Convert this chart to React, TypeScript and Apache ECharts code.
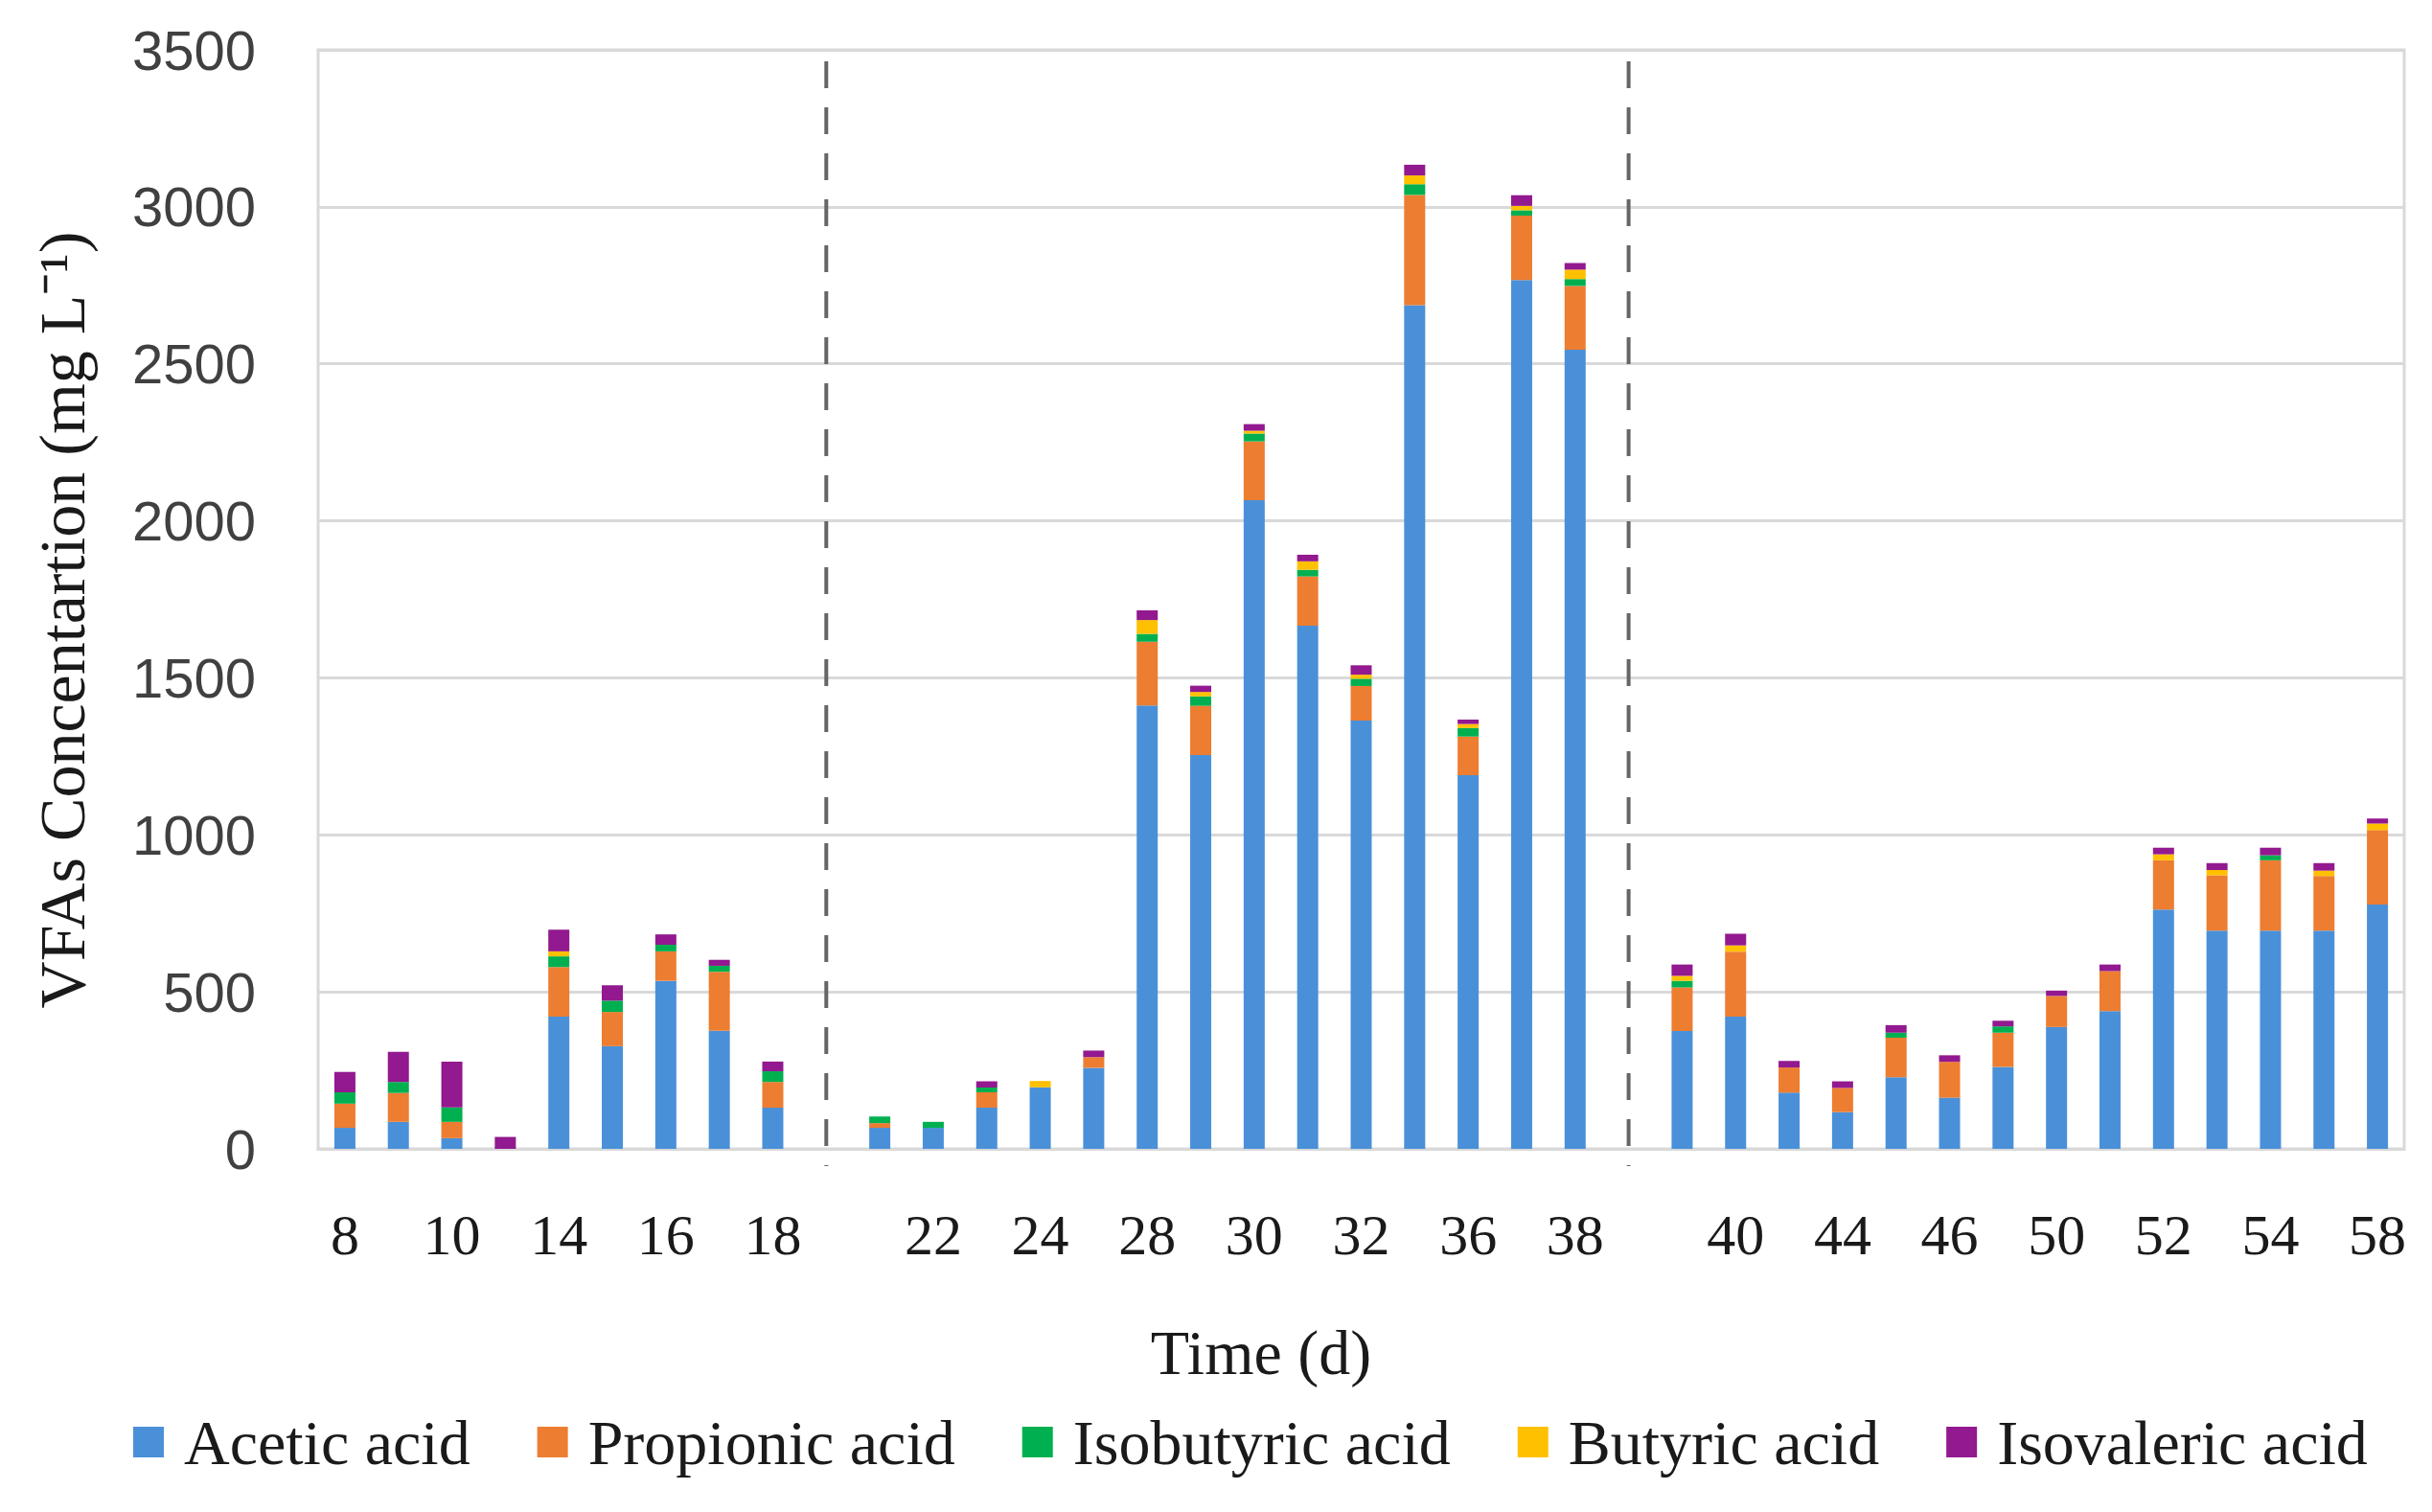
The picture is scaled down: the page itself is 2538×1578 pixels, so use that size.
import React, { useEffect, useRef } from 'react';
import * as echarts from 'echarts';

// x tick labels (Excel shows every other bar; blank slots are the section gaps)
const timeLabels = [
  '8', '', '10', '', '14', '', '16', '', '18',
  '',
  '', '22', '', '24', '', '28', '', '30', '', '32', '', '36', '', '38',
  '',
  '', '40', '', '44', '', '46', '', '50', '', '52', '', '54', '', '58',
];

const acetic = [
  67, 86, 34, 0, 421, 327, 535, 376, 131,
  null,
  67, 67, 131, 196, 258, 1412, 1254, 2066, 1666, 1364, 2687, 1190, 2767, 2545,
  null,
  375, 421, 179, 117, 228, 163, 261, 388, 439, 762, 695, 695, 695, 778,
];
const propionic = [
  77, 92, 52, 0, 158, 109, 94, 188, 82,
  null,
  15, 0, 49, 0, 34, 203, 157, 187, 157, 110, 351, 123, 205, 203,
  null,
  139, 207, 80, 77, 126, 114, 109, 99, 127, 157, 176, 224, 174, 237,
];
const isobutyric = [
  36, 35, 46, 0, 34, 36, 21, 19, 34,
  null,
  21, 19, 15, 0, 0, 25, 30, 25, 21, 23, 34, 27, 17, 22,
  null,
  21, 0, 0, 0, 16, 0, 20, 0, 0, 0, 0, 16, 0, 0,
];
const butyric = [
  0, 0, 0, 0, 16, 0, 0, 0, 0,
  null,
  0, 0, 0, 20, 0, 44, 14, 9, 27, 13, 28, 13, 14, 30,
  null,
  16, 20, 0, 0, 0, 0, 0, 0, 0, 19, 17, 0, 17, 21,
];
const isovaleric = [
  65, 96, 146, 38, 69, 49, 33, 19, 31,
  null,
  0, 0, 20, 0, 21, 31, 20, 21, 21, 30, 34, 14, 34, 21,
  null,
  36, 37, 21, 21, 24, 21, 18, 17, 21, 21, 22, 24, 24, 16,
];

const seriesNames = ['Acetic acid', 'Propionic acid', 'Isobutyric acid', 'Butyric acid', 'Isovaleric acid'];
const seriesColors = ['#4A90D9', '#ED7D31', '#00B050', '#FFC000', '#92198F'];
const seriesData = [acetic, propionic, isobutyric, butyric, isovaleric];

// category slots where the phase separators are drawn
const separatorSlots = [9, 24];

const serif = "'Liberation Serif', 'Times New Roman', serif";
const sans = "'Liberation Sans', Arial, sans-serif";

const App: React.FC = () => {
  const chartRef = useRef<HTMLDivElement | null>(null);

  useEffect(() => {
    if (!chartRef.current) return;
    const chart = echarts.init(chartRef.current, null, { renderer: 'svg' });

    chart.setOption({
      animation: false,
      backgroundColor: '#ffffff',
      grid: {
        left: 332,
        right: 29,
        top: 52,
        bottom: 379,
        show: true,
        borderColor: '#D9D9D9',
        borderWidth: 3,
      },
      legend: {
        left: 134,
        top: 1467,
        icon: 'rect',
        itemWidth: 32,
        itemHeight: 32,
        itemGap: 70,
        selectedMode: false,
        textStyle: {
          fontFamily: serif,
          fontSize: 66,
          color: '#1a1a1a',
          padding: [0, 0, 0, 16],
        },
        data: seriesNames,
      },
      xAxis: {
        type: 'category',
        data: timeLabels,
        axisLine: { lineStyle: { color: '#D9D9D9', width: 3 } },
        axisTick: { show: false },
        axisLabel: {
          interval: 0,
          margin: 60,
          fontFamily: serif,
          fontSize: 60,
          color: '#1a1a1a',
        },
      },
      yAxis: {
        type: 'value',
        min: 0,
        max: 3500,
        interval: 500,
        axisLine: { show: false },
        axisTick: { show: false },
        axisLabel: {
          margin: 65,
          fontFamily: sans,
          fontSize: 58,
          color: '#404040',
          formatter: (v: number) => String(v),
        },
        splitLine: { lineStyle: { color: '#D9D9D9', width: 3 } },
      },
      series: seriesNames.map((name, i) => ({
        name,
        type: 'bar',
        stack: 'vfa',
        barWidth: 22,
        data: seriesData[i],
        itemStyle: { color: seriesColors[i] },
      })),
    });

    const yTop = chart.convertToPixel({ yAxisIndex: 0 }, 3500) as number;
    const yBase = chart.convertToPixel({ yAxisIndex: 0 }, 0) as number;

    const separators = separatorSlots.map((slot) => {
      const x = chart.convertToPixel({ xAxisIndex: 0 }, slot) as number;
      return {
        type: 'line',
        shape: { x1: x, y1: yTop + 12, x2: x, y2: yBase + 18 },
        style: { stroke: '#666666', lineWidth: 4, lineDash: [28, 20] },
        silent: true,
      };
    });

    chart.setOption({
      graphic: [
        ...separators,
        {
          type: 'text',
          x: 1316,
          y: 1411,
          style: {
            text: 'Time (d)',
            font: `66px ${serif}`,
            fill: '#1a1a1a',
            textAlign: 'center',
            textVerticalAlign: 'middle',
          },
        },
        {
          type: 'text',
          x: 65,
          y: 647,
          rotation: Math.PI / 2,
          style: {
            text: 'VFAs Concentartion (mg L⁻¹)',
            font: `68px ${serif}`,
            fill: '#1a1a1a',
            textAlign: 'center',
            textVerticalAlign: 'middle',
          },
        },
      ],
    });

    return () => {
      chart.dispose();
    };
  }, []);

  return (
    <div
      ref={chartRef}
      style={{ position: 'absolute', left: 0, top: 0, width: '2538px', height: '1578px' }}
    />
  );
};

export default App;
